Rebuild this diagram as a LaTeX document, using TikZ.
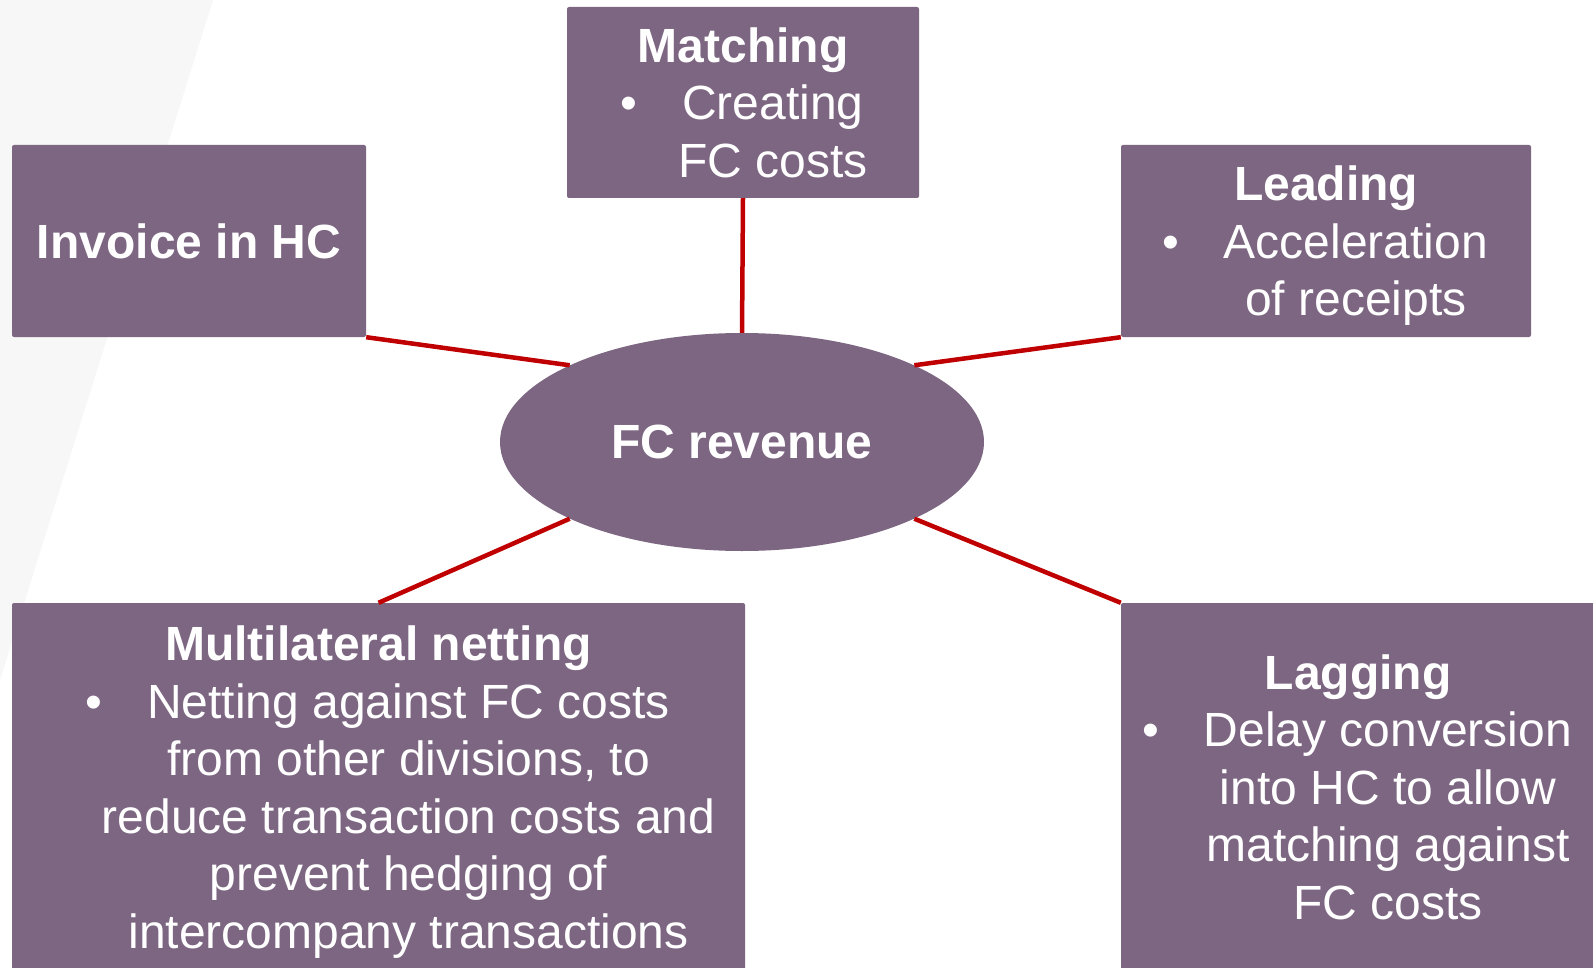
\documentclass[tikz,border=0pt]{standalone}
\usepackage{fontspec}
\setmainfont{Liberation Sans}
\usetikzlibrary{shapes.geometric}

\definecolor{boxpurple}{HTML}{7D6682}
\definecolor{linkred}{HTML}{C00000}
\definecolor{bggrey}{HTML}{F7F7F7}

\tikzset{
  box/.style={fill=boxpurple, rounded corners=2pt, inner sep=0pt, text=white,
    align=center, text depth=0pt, font=\fontsize{48}{57.5}\selectfont},
  hub/.style={fill=boxpurple, ellipse, inner sep=0pt, text=white,
    font=\fontsize{48}{57.5}\selectfont},
  link/.style={draw=linkred, line width=4.5pt},
}
% bullet hanging left of an indented line
\newcommand\bul{\llap{\textbullet\hspace{45pt}}}
\newcommand\ind{\hspace*{60pt}}

\begin{document}
\begin{tikzpicture}[x=1pt,y=-1pt]
\useasboundingbox (0,0) rectangle (1593,968);
\clip (0,0) rectangle (1593,968);
\fill[white] (0,0) rectangle (1593,968);
\fill[bggrey] (0,0) -- (213,0) -- (0,680) -- cycle;

% outer boxes
\node[box, minimum width=354pt, minimum height=192pt] (invoice) at (189,241) {\textbf{Invoice in HC}};
\node[box, minimum width=352pt, minimum height=191pt] (matching) at (743,102.5) {\textbf{Matching}\\ \ind\bul Creating\\ \ind FC costs};
\node[box, minimum width=410pt, minimum height=192pt] (leading) at (1326,241) {\textbf{Leading}\\ \ind\bul Acceleration\\ \ind of receipts};
\node[box, minimum width=733pt, minimum height=368pt] (netting) at (378.5,787) {\textbf{Multilateral netting}\\ \ind\bul Netting against FC costs\\ \ind from other divisions, to\\ \ind reduce transaction costs and\\ \ind prevent hedging of\\ \ind intercompany transactions};
\node[box, minimum width=474pt, minimum height=368pt] (lagging) at (1358,787) {\textbf{Lagging}\\ \ind\bul Delay conversion\\ \ind into HC to allow\\ \ind matching against\\ \ind FC costs};

% centre
\node[hub, minimum width=484pt, minimum height=218pt] (revenue) at (742,442) {\textbf{FC revenue}};

% spokes
\draw[link] (invoice.south east) -- (revenue.156);
\draw[link] (matching.south) -- (revenue.north);
\draw[link] (leading.south west) -- (revenue.24);
\draw[link] (netting.north) -- (revenue.204);
\draw[link] (lagging.north west) -- (revenue.336);
\end{tikzpicture}
\end{document}
